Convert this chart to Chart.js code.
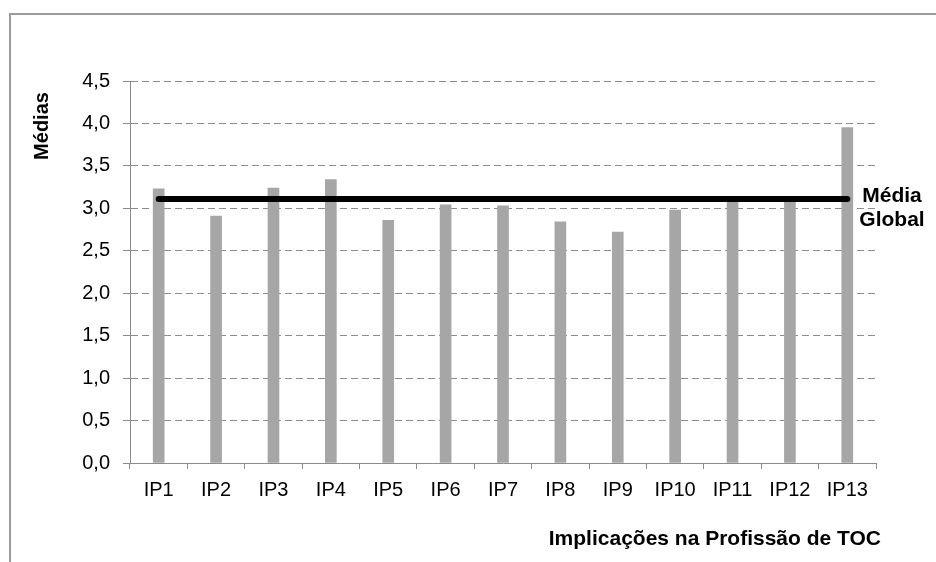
<!DOCTYPE html>
<html>
<head>
<meta charset="utf-8">
<script src="https://cdn.jsdelivr.net/npm/chart.js"></script>
<style>
  html, body { margin: 0; padding: 0; background: #fff; overflow: hidden; }
  .chart-wrap { position: relative; width: 936px; height: 562px; font-family: 'Liberation Sans', Arial, sans-serif; color: #000; }
  .frame { position: absolute; left: 9px; top: 13px; width: 2000px; height: 2000px; border-top: 2px solid #9c9c9c; border-left: 2px solid #9c9c9c; }
  .txt { position: absolute; font-weight: bold; line-height: 24px; white-space: nowrap; }
  #y-title { left: -9px; top: 114px; width: 100px; text-align: center; font-size: 20px; transform: rotate(-90deg); }
  #x-title { right: 55px; top: 526px; font-size: 21px; }
  #media-label { left: 852px; top: 183px; width: 80px; text-align: center; font-size: 21px; }
  canvas { position: absolute; left: 0; top: 0; }
</style>
</head>
<body>
<div class="chart-wrap">
  <div class="frame"></div>
  <canvas id="chart"></canvas>
  <div class="txt" id="y-title">Médias</div>
  <div class="txt" id="x-title">Implicações na Profissão de TOC</div>
  <div class="txt" id="media-label">Média<br>Global</div>
</div>

<script>
  // dados
  const categorias = ['IP1', 'IP2', 'IP3', 'IP4', 'IP5', 'IP6', 'IP7', 'IP8', 'IP9', 'IP10', 'IP11', 'IP12', 'IP13'];
  const medias = [3.23, 2.91, 3.24, 3.34, 2.86, 3.04, 3.03, 2.84, 2.72, 2.98, 3.07, 3.07, 3.95];
  const mediaGlobal = [3.11, 3.11, 3.11, 3.11, 3.11, 3.11, 3.11, 3.11, 3.11, 3.11, 3.11, 3.11, 3.11];
  const yMin = 0, yMax = 4.5, yPasso = 0.5;

  const FONT = "'Liberation Sans', Arial, sans-serif";
  const GRID = '#8c8c8c';

  new Chart(document.getElementById('chart'), {
    type: 'bar',
    data: {
      labels: categorias,
      datasets: [
        {
          type: 'line', label: 'Média Global', data: mediaGlobal, order: 0,
          borderColor: '#000', borderWidth: 6, borderCapStyle: 'round',
          pointRadius: 0, fill: false
        },
        {
          type: 'bar', label: 'Médias', data: medias, order: 1,
          backgroundColor: '#a6a6a6', borderWidth: 0, barThickness: 11
        }
      ]
    },
    options: {
      responsive: true, maintainAspectRatio: false, animation: false,
      layout: { padding: { top: 81, right: 60, left: 0, bottom: 0 } },
      plugins: { legend: { display: false }, tooltip: { enabled: false } },
      scales: {
        x: {
          offset: true,
          grid: { display: true, drawOnChartArea: false, drawTicks: true, tickLength: 6, color: GRID, offset: true },
          border: { display: true, color: GRID, width: 1 },
          ticks: { color: '#000', font: { family: FONT, size: 20 }, padding: 9, maxRotation: 0, autoSkip: false },
          afterFit: s => { s.height = 99; }
        },
        y: {
          min: yMin, max: yMax,
          grid: { color: GRID, lineWidth: 1, tickLength: 7, tickBorderDash: [], drawTicks: true },
          border: { display: true, color: GRID, width: 1, dash: [7, 4] },
          ticks: {
            stepSize: yPasso, color: '#000', padding: 13,
            font: { family: FONT, size: 20 },
            callback: v => v.toFixed(1).replace('.', ',')
          },
          afterFit: s => { s.width = 130; }
        }
      }
    }
  });
</script>
</body>
</html>
